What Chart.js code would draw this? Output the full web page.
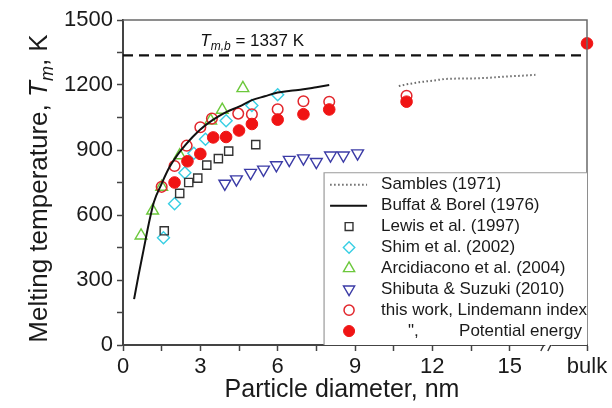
<!DOCTYPE html>
<html><head><meta charset="utf-8">
<script src="https://cdn.jsdelivr.net/npm/chart.js@4/dist/chart.umd.min.js"></script>
<style>html,body{margin:0;padding:0;background:#fff}#wrap{width:612px;height:408px}</style>
</head><body><div id="wrap"><canvas id="c" width="612" height="408"></canvas></div>
<script>
// ---------- data ----------
const xTickValues = [0, 1.5, 3, 4.5, 6, 7.5, 9, 10.5, 12, 13.5, 15, 18];
const xTickLabels = ['0', '', '3', '', '6', '', '9', '', '12', '', '15', 'bulk'];
const yTickValues = [0, 150, 300, 450, 600, 750, 900, 1050, 1200, 1350, 1500];
const yTickLabels = ['0', '', '300', '', '600', '', '900', '', '1200', '', '1500'];
const breakAt = 16.5;
const bulkTm = 1337;

const samblesX = [10.7, 11.0, 11.5, 12.0, 12.5, 13.0, 13.5, 14.0, 14.5, 15.0, 15.5, 16.0];
const samblesY = [1195, 1203, 1213, 1220, 1228, 1230, 1230, 1232, 1236, 1240, 1243, 1247];

const buffatX = [0.43, 0.6, 0.8, 1.0, 1.2, 1.5, 1.8, 2.1, 2.4, 2.7, 3.0, 3.5, 4.0, 4.5, 5.0, 5.5, 6.0, 6.5, 7.0, 7.5, 8.0];
const buffatY = [212, 320, 440, 560, 660, 745, 820, 875, 920, 960, 995, 1040, 1075, 1100, 1130, 1148, 1165, 1173, 1180, 1190, 1200];

const lewisX = [1.6, 2.2, 2.55, 2.9, 3.25, 3.7, 4.1, 5.15];
const lewisY = [527, 700, 750, 770, 830, 860, 895, 925];

const shimX = [1.57, 2.0, 2.4, 2.75, 3.2, 4.0, 5.0, 6.0];
const shimY = [495, 652, 795, 885, 950, 1035, 1105, 1155];

const arcidX = [0.7, 1.15, 1.5, 2.2, 3.4, 3.85, 4.65];
const arcidY = [505, 620, 730, 875, 1035, 1085, 1185];

const shibutaX = [3.95, 4.4, 4.95, 5.45, 5.95, 6.45, 7.0, 7.5, 8.05, 8.55, 9.1];
const shibutaY = [745, 765, 795, 810, 830, 855, 862, 845, 875, 875, 885];

const lindemannX = [1.5, 2.0, 2.47, 3.0, 3.45, 4.47, 5.0, 6.0, 7.0, 8.0, 11.0];
const lindemannY = [730, 826, 920, 1005, 1045, 1068, 1065, 1088, 1125, 1123, 1150];

const potentialX = [2.0, 2.5, 3.0, 3.5, 4.0, 4.5, 5.0, 6.0, 7.0, 8.0, 11.0, 18];
const potentialY = [750, 848, 882, 958, 960, 990, 1020, 1040, 1065, 1087, 1123, 1392];

const legendLabels = ['Sambles (1971)', 'Buffat & Borel (1976)', 'Lewis et al. (1997)', 'Shim et al. (2002)',
  'Arcidiacono et al. (2004)', 'Shibuta & Suzuki (2010)', 'this work, Lindemann index', 'Potential energy'];
const dittoMark = '",';
const xTitle = 'Particle diameter, nm';
const yTitleParts = ['Melting temperature, ', 'T', 'm', ', K'];
const annotParts = ['T', 'm,b', ' = 1337 K'];

// ---------- helpers ----------
const FONT = '"Liberation Sans", Arial, Helvetica, sans-serif';
const pts = (xs, ys) => xs.map((v, i) => ({x: v, y: ys[i]}));
const CLEAR = 'rgba(0,0,0,0)';

const datasets = [
  {label: legendLabels[0], data: pts(samblesX, samblesY), showLine: true, pointRadius: 0, order: 0,
   borderColor: '#6e6e6e', borderWidth: 2, borderDash: [1.6, 2.4], legendKind: 'line'},
  {label: legendLabels[1], data: pts(buffatX, buffatY), showLine: true, pointRadius: 0, order: 0,
   borderColor: '#111', borderWidth: 2, cubicInterpolationMode: 'monotone', legendKind: 'line'},
  {label: legendLabels[2], data: pts(lewisX, lewisY), pointStyle: 'rect', pointRadius: 5.8, order: 3,
   borderColor: '#333', backgroundColor: CLEAR, pointBorderWidth: 1.4, legendKind: 'point'},
  {label: legendLabels[3], data: pts(shimX, shimY), pointStyle: 'rectRot', pointRadius: 6, order: 3,
   borderColor: '#38cfe4', backgroundColor: CLEAR, pointBorderWidth: 1.4, legendKind: 'point'},
  {label: legendLabels[4], data: pts(arcidX, arcidY), pointStyle: 'triangle', pointRadius: 6.8, order: 3,
   borderColor: '#6cc83c', backgroundColor: CLEAR, pointBorderWidth: 1.4, legendKind: 'point'},
  {label: legendLabels[5], data: pts(shibutaX, shibutaY), pointStyle: 'triangle', pointRotation: 180, pointRadius: 6.8, order: 3,
   borderColor: '#3b3ba6', backgroundColor: CLEAR, pointBorderWidth: 1.4, legendKind: 'point'},
  {label: legendLabels[6], data: pts(lindemannX, lindemannY), pointStyle: 'circle', pointRadius: 5.3, order: 2,
   borderColor: '#e2262c', backgroundColor: CLEAR, pointBorderWidth: 1.5, legendKind: 'point'},
  {label: legendLabels[7], data: pts(potentialX, potentialY), pointStyle: 'circle', pointRadius: 5.8, order: 1,
   borderColor: '#f01414', backgroundColor: '#f01414', pointBorderWidth: 1, legendKind: 'point'},
  {label: 'bulk', data: pts([0, 18], [bulkTm, bulkTm]), showLine: true, pointRadius: 0, order: 4,
   borderColor: '#111', borderWidth: 2.2, borderDash: [10, 6]}
];

const overlay = {
  id: 'overlay',
  afterDraw(chart) {
    const {ctx, chartArea: a, scales: {x, y}} = chart;
    ctx.save();
    // frame top & right
    ctx.strokeStyle = '#6a6a6a'; ctx.lineWidth = 1.5;
    ctx.beginPath(); ctx.moveTo(a.left, a.top); ctx.lineTo(a.right, a.top); ctx.lineTo(a.right, a.bottom); ctx.stroke();

    // axis break
    const bx = x.getPixelForValue(breakAt);
    ctx.fillStyle = '#fff'; ctx.fillRect(bx - 3, a.bottom - 2, 6, 4);
    ctx.strokeStyle = '#333'; ctx.lineWidth = 1.4;
    for (const dx of [-3.5, 3.5]) {
      ctx.beginPath(); ctx.moveTo(bx + dx - 4, a.bottom + 6); ctx.lineTo(bx + dx + 4, a.bottom - 10); ctx.stroke();
    }

    // legend
    const lx0 = x.getPixelForValue(7.8), ly0 = y.getPixelForValue(795);
    ctx.fillStyle = '#fff'; ctx.fillRect(lx0, ly0, a.right - lx0, a.bottom - ly0);
    ctx.strokeStyle = '#9a9a9a'; ctx.lineWidth = 1.2;
    ctx.beginPath(); ctx.moveTo(lx0, a.bottom); ctx.lineTo(lx0, ly0); ctx.lineTo(a.right, ly0); ctx.stroke();
    ctx.font = '17px ' + FONT; ctx.textBaseline = 'middle'; ctx.textAlign = 'left';
    const legDs = chart.data.datasets.filter(d => d.legendKind);
    legDs.forEach((d, i) => {
      const cy = ly0 + 12 + i * 20.9;
      const sx = lx0 + 25;
      if (d.legendKind === 'line') {
        ctx.save();
        ctx.strokeStyle = d.borderColor; ctx.lineWidth = d.borderWidth;
        ctx.setLineDash(d.borderDash || []);
        ctx.beginPath(); ctx.moveTo(lx0 + 6, cy); ctx.lineTo(lx0 + 43, cy); ctx.stroke();
        ctx.restore();
      } else {
        ctx.save();
        ctx.strokeStyle = d.borderColor; ctx.fillStyle = d.backgroundColor; ctx.lineWidth = d.pointBorderWidth;
        Chart.helpers.drawPoint(ctx, {pointStyle: d.pointStyle, radius: d.pointRadius * 0.95, rotation: d.pointRotation || 0,
          borderWidth: d.pointBorderWidth}, sx, cy);
        ctx.restore();
      }
      ctx.fillStyle = '#1a1a1a';
      if (i === legDs.length - 1) {
        ctx.fillText(dittoMark, lx0 + 84, cy);
        ctx.fillText(d.label, lx0 + 135, cy);
      } else {
        ctx.fillText(d.label, lx0 + 57, cy);
      }
    });

    // annotation T_m,b = 1337 K
    ctx.fillStyle = '#111'; ctx.textBaseline = 'alphabetic'; ctx.textAlign = 'left';
    let ax = x.getPixelForValue(3.0), ay = y.getPixelForValue(bulkTm) - 9;
    ctx.font = 'italic 17px ' + FONT; ctx.fillText(annotParts[0], ax, ay); ax += ctx.measureText(annotParts[0]).width;
    ctx.font = 'italic 12px ' + FONT; ctx.fillText(annotParts[1], ax, ay + 4); ax += ctx.measureText(annotParts[1]).width;
    ctx.font = '17px ' + FONT; ctx.fillText(annotParts[2], ax, ay);

    // x title
    ctx.font = '25px ' + FONT; ctx.textAlign = 'center'; ctx.fillStyle = '#1a1a1a';
    ctx.fillText(xTitle, (a.left + a.right) / 2 - 13, 397);

    // y title
    ctx.save();
    const fonts = ['26px ', 'italic 26px ', 'italic 18px ', '26px '];
    const dys = [0, 0, 6, 0];
    let total = 0;
    yTitleParts.forEach((t, i) => { ctx.font = fonts[i] + FONT; total += ctx.measureText(t).width; });
    ctx.translate(47, (a.top + a.bottom) / 2 + 6);
    ctx.rotate(-Math.PI / 2);
    ctx.textAlign = 'left';
    let px = -total / 2;
    yTitleParts.forEach((t, i) => {
      ctx.font = fonts[i] + FONT; ctx.fillText(t, px, dys[i]); px += ctx.measureText(t).width;
    });
    ctx.restore();
    ctx.restore();
  }
};

new Chart(document.getElementById('c'), {
  type: 'scatter',
  data: {datasets},
  options: {
    responsive: false, animation: false, devicePixelRatio: 1,
    clip: false,
    layout: {padding: {left: 0, right: 25, top: 20, bottom: 0}},
    plugins: {legend: {display: false}, tooltip: {enabled: false}},
    scales: {
      x: {
        type: 'linear', min: 0, max: 18,
        afterBuildTicks: s => { s.ticks = xTickValues.map(v => ({value: v})); },
        afterFit: s => { s.height = 63; s.paddingLeft = 0; s.paddingRight = 0; },
        ticks: {autoSkip: false, maxRotation: 0, padding: 3, color: '#1a1a1a', font: {family: FONT, size: 22},
          callback: v => { const i = xTickValues.indexOf(v); return i >= 0 ? xTickLabels[i] : ''; }},
        grid: {drawOnChartArea: false, drawTicks: true, tickLength: 6, tickColor: '#444', tickWidth: 1.5},
        border: {display: true, color: '#444', width: 2}
      },
      y: {
        type: 'linear', min: 0, max: 1500,
        afterBuildTicks: s => { s.ticks = yTickValues.map(v => ({value: v})); },
        afterFit: s => { s.width = 123; s.paddingTop = 0; s.paddingBottom = 0; },
        ticks: {autoSkip: false, padding: 4, color: '#1a1a1a', font: {family: FONT, size: 22},
          callback: v => { const i = yTickValues.indexOf(v); return i >= 0 ? yTickLabels[i] : ''; }},
        grid: {drawOnChartArea: false, drawTicks: true, tickLength: 6, tickColor: '#444', tickWidth: 1.5},
        border: {display: true, color: '#444', width: 2}
      }
    }
  },
  plugins: [overlay]
});
</script>
</body></html>
